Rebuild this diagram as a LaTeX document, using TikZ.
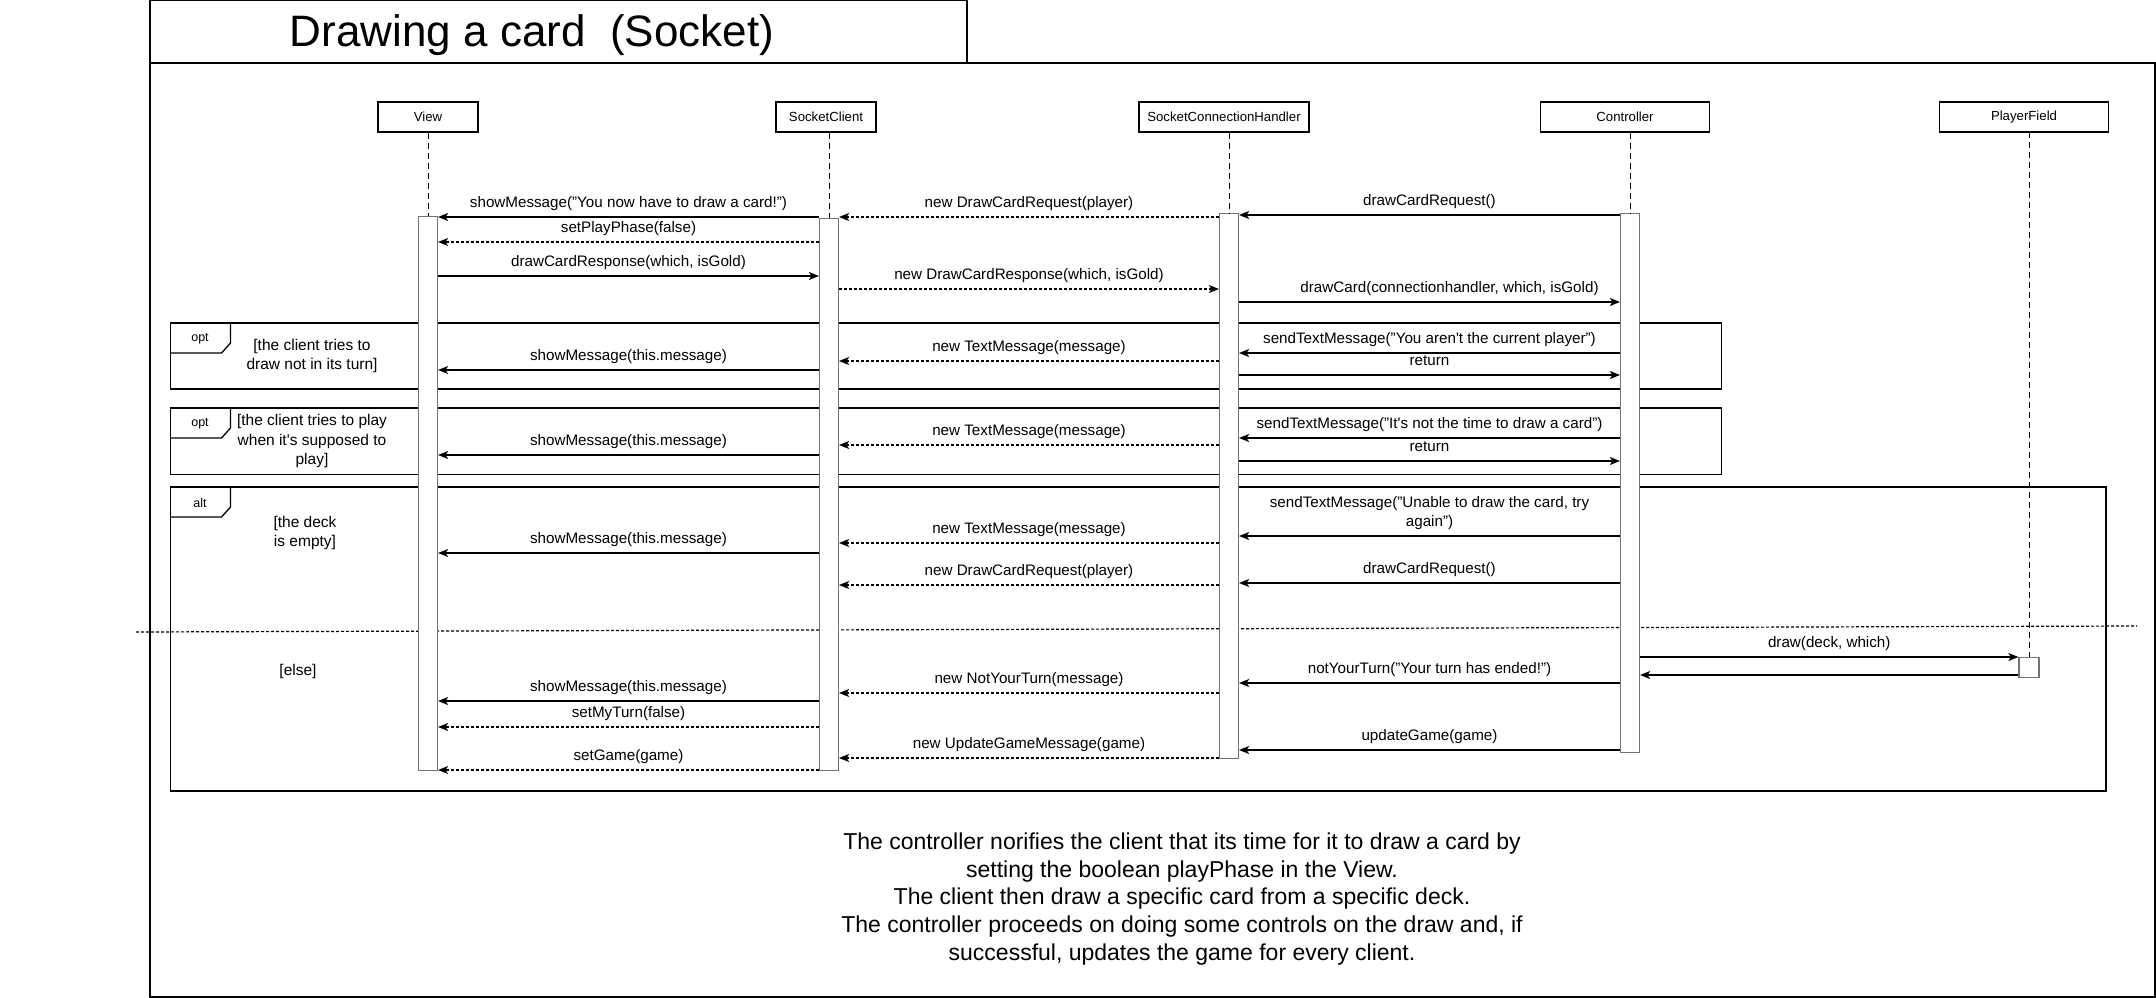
\documentclass[tikz,border=0pt]{standalone}
\usepackage{fontspec}
\setmainfont{Liberation Sans}
\usetikzlibrary{arrows.meta}

\begin{document}
\begin{tikzpicture}[x=1pt,y=-1pt,line width=1.3pt,
    >={Stealth[length=10pt,width=8pt,inset=2.5pt]},
    obj/.style={draw,line width=1.2pt,minimum width=100pt,minimum height=30pt,inner sep=0pt,font=\fontsize{13.2}{15}\selectfont},
    bar/.style={draw=black!55,fill=white,line width=1.2pt,minimum width=19pt,inner sep=0pt,anchor=north},
    life/.style={line width=0.9pt,dash pattern=on 6pt off 4pt},
    call/.style={->,line width=1.5pt},
    reply/.style={->,line width=1.2pt,dash pattern=on 3pt off 2pt},
    lbl/.style={midway,above=6pt,inner sep=0pt,text height=11pt,text depth=3pt,align=center,font=\fontsize{15.2}{19}\selectfont},
    guard/.style={align=center,inner sep=0pt,font=\fontsize{15.5}{19.5}\selectfont},
    tag/.style={inner sep=0pt,font=\fontsize{12.5}{15}\selectfont}]
    \useasboundingbox (0,0) rectangle (2156,998);

    % frame and title
    \draw (150,0.7) rectangle (967,63);
    \draw (150,63) rectangle (2155,997);
    \node[font=\fontsize{44}{50}\selectfont] (title) at (532,35) {Drawing a card~~(Socket)};

    % lifelines
    \node[obj] (view) at (428,117) {View};
    \node[obj] (client) at (826,117) {SocketClient};
    \node[obj,minimum width=170pt] (handler) at (1224,117) {SocketConnectionHandler};
    \node[obj,minimum width=169pt] (ctrl) at (1625,117) {Controller};
    \node[obj,minimum width=169pt] (field) at (2024,117) {PlayerField};

    \draw[life] (2029,132) -- (2029,657);

    % fragments
    \draw (170.5,323) rectangle (1721.5,389);
    \draw (170.5,408) rectangle (1721.5,474.5);
    \draw (170.5,487) rectangle (2106,791);
    \foreach \ytop/\kind in {323/opt,408/opt,487/alt}{
      \draw (170.5,\ytop) -- ++(60,0) -- ++(0,20) -- ++(-9,10) -- (170.5,\ytop+30);
      \node[tag] at (200,\ytop+16) {\kind};
    }
    \node[guard] (g1) at (312,356) {[the client tries to\\draw not in its turn]};
    \node[guard] (g2) at (312,441) {[the client tries to play\\when it\textquotesingle s supposed to\\play]};
    \node[guard] (g3) at (305,533) {[the deck\\is empty]};
    \node[guard] (g4) at (298,671) {[else]};
    \draw[line width=1.2pt,dash pattern=on 3pt off 2pt] (136,632) -- (2137,626);

    % activations
    \node[bar,minimum height=554pt] (viewbar) at (428,216) {};
    \node[bar,minimum height=552pt] (clientbar) at (829,218) {};
    \node[bar,minimum height=545pt] (handlerbar) at (1229,213) {};
    \node[bar,minimum height=539pt] (ctrlbar) at (1630,213) {};
    \node[bar,minimum width=20pt,minimum height=20pt] (fieldbar) at (2029,657) {};
    \draw[life] (view.south) -- (viewbar.north);
    \draw[life] (clientbar.north |- client.south) -- (clientbar.north);
    \draw[life] (handlerbar.north |- handler.south) -- (handlerbar.north);
    \draw[life] (ctrlbar.north |- ctrl.south) -- (ctrlbar.north);

    % messages
    \draw[call] (clientbar.west |- 0,217) -- node[lbl]{showMessage("You now have to draw a card!")} (viewbar.east |- 0,217);
    \draw[reply] (clientbar.west |- 0,242) -- node[lbl]{setPlayPhase(false)} (viewbar.east |- 0,242);
    \draw[call] (viewbar.east |- 0,276) -- node[lbl]{drawCardResponse(which, isGold)} (clientbar.west |- 0,276);
    \draw[reply] (handlerbar.west |- 0,217) -- node[lbl]{new DrawCardRequest(player)} (clientbar.east |- 0,217);
    \draw[reply] (clientbar.east |- 0,289) -- node[lbl]{new DrawCardResponse(which, isGold)} (handlerbar.west |- 0,289);
    \draw[call] (ctrlbar.west |- 0,215) -- node[lbl]{drawCardRequest()} (handlerbar.east |- 0,215);
    \draw[call] (handlerbar.east |- 0,302) -- node[lbl,xshift=20pt]{drawCard(connectionhandler, which, isGold)} (ctrlbar.west |- 0,302);

    \draw[call] (ctrlbar.west |- 0,353) -- node[lbl]{sendTextMessage("You aren\textquotesingle t the current player")} (handlerbar.east |- 0,353);
    \draw[call] (handlerbar.east |- 0,375) -- node[lbl]{return} (ctrlbar.west |- 0,375);
    \draw[reply] (handlerbar.west |- 0,361) -- node[lbl]{new TextMessage(message)} (clientbar.east |- 0,361);
    \draw[call] (clientbar.west |- 0,370) -- node[lbl]{showMessage(this.message)} (viewbar.east |- 0,370);

    \draw[call] (ctrlbar.west |- 0,438) -- node[lbl]{sendTextMessage("It\textquotesingle s not the time to draw a card")} (handlerbar.east |- 0,438);
    \draw[call] (handlerbar.east |- 0,461) -- node[lbl]{return} (ctrlbar.west |- 0,461);
    \draw[reply] (handlerbar.west |- 0,445) -- node[lbl]{new TextMessage(message)} (clientbar.east |- 0,445);
    \draw[call] (clientbar.west |- 0,455) -- node[lbl]{showMessage(this.message)} (viewbar.east |- 0,455);

    \draw[call] (ctrlbar.west |- 0,536) -- node[lbl]{sendTextMessage("Unable to draw the card, try\\again")} (handlerbar.east |- 0,536);
    \draw[reply] (handlerbar.west |- 0,543) -- node[lbl]{new TextMessage(message)} (clientbar.east |- 0,543);
    \draw[call] (clientbar.west |- 0,553) -- node[lbl]{showMessage(this.message)} (viewbar.east |- 0,553);
    \draw[call] (ctrlbar.west |- 0,583) -- node[lbl]{drawCardRequest()} (handlerbar.east |- 0,583);
    \draw[reply] (handlerbar.west |- 0,585) -- node[lbl]{new DrawCardRequest(player)} (clientbar.east |- 0,585);

    \draw[call] (ctrlbar.east |- 0,657) -- node[lbl]{draw(deck, which)} (fieldbar.west |- 0,657);
    \draw[call] (fieldbar.west |- 0,675) -- (ctrlbar.east |- 0,675);
    \draw[call] (ctrlbar.west |- 0,683) -- node[lbl]{notYourTurn("Your turn has ended!")} (handlerbar.east |- 0,683);
    \draw[reply] (handlerbar.west |- 0,693) -- node[lbl]{new NotYourTurn(message)} (clientbar.east |- 0,693);
    \draw[call] (clientbar.west |- 0,701) -- node[lbl]{showMessage(this.message)} (viewbar.east |- 0,701);
    \draw[reply] (clientbar.west |- 0,727) -- node[lbl]{setMyTurn(false)} (viewbar.east |- 0,727);
    \draw[call] (ctrlbar.west |- 0,750) -- node[lbl]{updateGame(game)} (handlerbar.east |- 0,750);
    \draw[reply] (handlerbar.west |- 0,758) -- node[lbl]{new UpdateGameMessage(game)} (clientbar.east |- 0,758);
    \draw[reply] (clientbar.west |- 0,770) -- node[lbl]{setGame(game)} (viewbar.east |- 0,770);

    % note
    \node[align=center,inner sep=0pt,font=\fontsize{23}{27.8}\selectfont] (summary) at (1182,899)
      {The controller norifies the client that its time for it to draw a card by\\
       setting the boolean playPhase in the View.\\
       The client then draw a specific card from a specific deck.\\
       The controller proceeds on doing some controls on the draw and, if\\
       successful, updates the game for every client.};
\end{tikzpicture}
\end{document}
